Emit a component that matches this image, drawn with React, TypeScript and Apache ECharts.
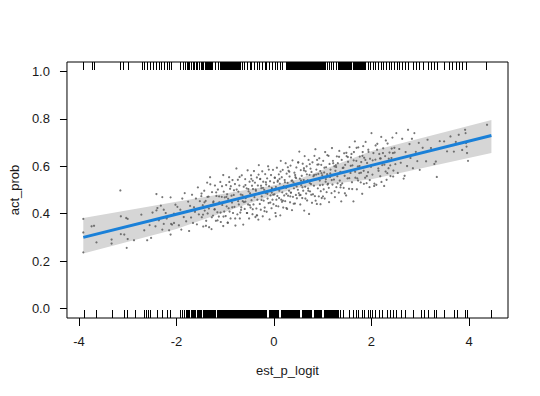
import React, { useEffect, useRef } from 'react';
import * as echarts from 'echarts';

const xTicks = [-4, -2, 0, 2, 4];
const yTicks = [0, 0.2, 0.4, 0.6, 0.8, 1.0];
const xRange = [-4.245, 4.8];
const yRange = [-0.04, 1.04];

const points: number[][] = [
  [-3.91,0.378],[-3.91,0.321],[-3.91,0.237],[-3.74,0.347],[-3.69,0.349],[-3.64,0.279],[-3.33,0.291],[-3.33,0.274],[-3.15,0.498],[-3.14,0.389],[-3.03,0.382],[-3.00,0.378],[-3.07,0.312],[-3.02,0.256],[-3.14,0.314],[-3.00,0.293],
  [-2.87,0.288],[-2.72,0.396],[-2.60,0.288],[-2.52,0.298],[-2.41,0.483],[-2.29,0.470],[-2.12,0.469],[-2.39,0.424],[-2.32,0.434],[-2.26,0.417],[-2.43,0.347],[-2.26,0.357],[-2.11,0.357],[-2.12,0.312],[-2.49,0.405],[-2.41,0.414],[-2.22,0.403],[-2.05,0.400],[-2.29,0.333],[-2.09,0.354],[-2.05,0.361],[-2.66,0.330],[-2.55,0.352],[-2.20,0.380],[-2.15,0.330],[-2.36,0.372],[-2.02,0.438],
  [-1.98,0.429],[-1.95,0.351],[-1.92,0.417],[-1.90,0.333],[-1.88,0.464],[-1.85,0.386],[-1.83,0.487],[-1.80,0.368],[-1.78,0.410],[-1.76,0.451],[-1.74,0.327],[-1.72,0.433],[-1.70,0.384],[-1.68,0.480],[-1.66,0.361],[-1.64,0.427],[-1.62,0.408],[-1.60,0.464],[-1.58,0.355],[-1.56,0.511],[-1.54,0.397],[-1.52,0.453],
  [-1.49,0.474],[-1.48,0.385],[-1.46,0.436],[-1.45,0.346],[-1.43,0.497],[-1.42,0.413],[-1.40,0.454],[-1.39,0.370],[-1.37,0.531],[-1.36,0.401],[-1.34,0.472],[-1.33,0.343],[-1.31,0.554],[-1.30,0.434],[-1.28,0.335],[-1.27,0.491],[-1.25,0.392],[-1.24,0.452],[-1.22,0.418],[-1.21,0.519],[-1.19,0.370],[-1.18,0.475],[-1.16,0.406],[-1.15,0.502],[-1.13,0.388],[-1.12,0.448],[-1.10,0.534],[-1.09,0.365],[-1.07,0.471],[-1.06,0.437],[-1.04,0.563],[-1.04,0.348],[-1.03,0.493],[-1.02,0.409],[-1.01,0.469],
  [-0.99,0.390],[-0.98,0.521],[-0.97,0.431],[-0.96,0.482],[-0.95,0.362],[-0.94,0.463],[-0.92,0.554],[-0.91,0.409],[-0.90,0.505],[-0.89,0.380],[-0.87,0.476],[-0.86,0.447],[-0.85,0.542],[-0.84,0.403],[-0.82,0.499],[-0.81,0.429],[-0.80,0.525],[-0.79,0.350],[-0.77,0.591],[-0.76,0.462],[-0.75,0.397],[-0.73,0.493],[-0.72,0.439],[-0.71,0.519],[-0.70,0.380],[-0.68,0.481],[-0.67,0.427],[-0.66,0.562],[-0.64,0.453],[-0.63,0.354],[-0.62,0.514],[-0.60,0.420],[-0.59,0.546],[-0.58,0.466],[-0.56,0.507],[-0.55,0.403],[-0.54,0.583],[-0.53,0.439],[-0.52,0.494],[-0.51,0.380],[-0.50,0.535],[-0.585,0.451],[-0.93,0.423],[-0.74,0.543],[-0.69,0.405],
  [-0.49,0.486],[-0.48,0.426],[-0.47,0.562],[-0.46,0.457],[-0.45,0.518],[-0.44,0.398],[-0.43,0.504],[-0.42,0.439],[-0.41,0.580],[-0.40,0.470],[-0.39,0.531],[-0.38,0.386],[-0.37,0.497],[-0.36,0.422],[-0.35,0.553],[-0.34,0.459],[-0.33,0.519],[-0.32,0.375],[-0.31,0.605],[-0.30,0.486],[-0.29,0.441],[-0.28,0.547],[-0.27,0.417],[-0.26,0.508],[-0.25,0.473],[-0.24,0.579],[-0.23,0.389],[-0.22,0.535],[-0.21,0.455],[-0.20,0.501],[-0.19,0.426],[-0.18,0.567],[-0.17,0.487],[-0.16,0.523],[-0.15,0.408],[-0.14,0.549],[-0.13,0.464],[-0.12,0.600],[-0.11,0.445],[-0.10,0.516],[-0.09,0.376],[-0.08,0.537],[-0.07,0.477],[-0.06,0.563],[-0.05,0.423],[-0.04,0.504],[-0.03,0.459],[-0.02,0.585],[-0.01,0.440],[0.00,0.531],[-0.355,0.393],[-0.265,0.518],[-0.045,0.489],[-0.435,0.539],
  [0.01,0.482],[0.02,0.552],[0.03,0.403],[0.04,0.513],[0.05,0.459],[0.06,0.594],[0.07,0.475],[0.08,0.540],[0.09,0.431],[0.10,0.566],[0.11,0.497],[0.12,0.527],[0.13,0.393],[0.14,0.623],[0.15,0.459],[0.16,0.554],[0.17,0.490],[0.18,0.585],[0.19,0.426],[0.20,0.516],[0.21,0.477],[0.22,0.542],[0.23,0.453],[0.24,0.613],[0.25,0.509],[0.26,0.569],[0.27,0.420],[0.28,0.530],[0.29,0.476],[0.30,0.581],[0.31,0.497],[0.32,0.557],[0.33,0.448],[0.34,0.603],[0.35,0.489],[0.36,0.539],[0.37,0.415],[0.38,0.625],[0.39,0.471],[0.40,0.532],[0.41,0.507],[0.42,0.573],[0.43,0.443],[0.44,0.554],[0.45,0.479],[0.46,0.595],[0.47,0.465],[0.48,0.526],[0.49,0.501],[0.50,0.617],[0.04,0.389],[0.255,0.484],[0.115,0.547],[0.335,0.473],[0.455,0.550],[0.185,0.455],
  [0.51,0.487],[0.52,0.662],[0.53,0.548],[0.54,0.439],[0.55,0.584],[0.56,0.520],[0.57,0.560],[0.58,0.466],[0.59,0.611],[0.60,0.497],[0.61,0.542],[0.62,0.413],[0.63,0.643],[0.64,0.514],[0.65,0.579],[0.66,0.485],[0.67,0.600],[0.68,0.456],[0.69,0.541],[0.70,0.507],[0.71,0.627],[0.72,0.399],[0.73,0.564],[0.74,0.494],[0.75,0.590],[0.76,0.525],[0.77,0.576],[0.78,0.446],[0.79,0.617],[0.80,0.482],[0.81,0.558],[0.82,0.518],[0.83,0.644],[0.84,0.474],[0.85,0.672],[0.86,0.545],[0.87,0.586],[0.88,0.441],[0.89,0.607],[0.90,0.507],[0.91,0.568],[0.92,0.473],[0.93,0.634],[0.94,0.540],[0.95,0.580],[0.96,0.495],[0.97,0.606],[0.98,0.466],[0.99,0.562],[1.00,0.522],[0.545,0.479],[0.615,0.592],[0.735,0.529],[0.865,0.565],[0.955,0.440],
  [1.01,0.623],[1.02,0.503],[1.03,0.574],[1.04,0.464],[1.05,0.660],[1.06,0.535],[1.07,0.596],[1.08,0.491],[1.09,0.567],[1.10,0.523],[1.12,0.644],[1.13,0.449],[1.14,0.610],[1.15,0.555],[1.16,0.586],[1.18,0.487],[1.19,0.677],[1.20,0.523],[1.21,0.623],[1.23,0.544],[1.24,0.600],[1.25,0.470],[1.26,0.581],[1.28,0.512],[1.29,0.642],[1.30,0.558],[1.31,0.613],[1.33,0.489],[1.34,0.665],[1.35,0.540],[1.36,0.576],[1.38,0.452],[1.39,0.627],[1.40,0.528],[1.41,0.593],[1.43,0.509],[1.44,0.655],[1.45,0.560],[1.46,0.606],[1.48,0.477],[1.49,0.643],[1.11,0.527],[1.27,0.605],[1.37,0.521],
  [1.51,0.549],[1.52,0.619],[1.54,0.505],[1.55,0.681],[1.57,0.572],[1.58,0.637],[1.60,0.533],[1.61,0.604],[1.63,0.452],[1.64,0.660],[1.66,0.705],[1.67,0.552],[1.69,0.623],[1.70,0.503],[1.72,0.599],[1.73,0.680],[1.75,0.571],[1.76,0.641],[1.78,0.532],[1.79,0.618],[1.81,0.484],[1.82,0.660],[1.84,0.581],[1.85,0.636],[1.87,0.552],[1.88,0.703],[1.90,0.529],[1.91,0.614],[1.93,0.575],[1.94,0.661],[1.96,0.512],[1.97,0.632],[1.99,0.598],[2.00,0.740],[1.59,0.652],[1.71,0.549],[1.83,0.685],
  [2.02,0.565],[2.04,0.656],[2.06,0.527],[2.08,0.628],[2.10,0.522],[2.12,0.695],[2.14,0.591],[2.16,0.652],[2.18,0.558],[2.20,0.724],[2.22,0.605],[2.24,0.676],[2.26,0.517],[2.28,0.643],[2.31,0.543],[2.33,0.696],[2.35,0.592],[2.37,0.658],[2.39,0.559],[2.41,0.635],[2.43,0.721],[2.45,0.582],[2.47,0.678],[2.49,0.609],[2.51,0.740],[2.19,0.633],[2.29,0.578],[2.44,0.656],
  [2.54,0.572],[2.57,0.673],[2.60,0.615],[2.63,0.716],[2.66,0.548],[2.68,0.560],[2.70,0.660],[2.73,0.601],[2.75,0.754],[2.78,0.694],[2.80,0.635],[2.83,0.716],[2.85,0.592],[2.88,0.740],[2.91,0.661],[2.94,0.622],[2.97,0.699],[2.99,0.585],
  [3.05,0.678],[3.12,0.621],[3.15,0.712],[3.22,0.677],[3.29,0.610],[3.32,0.620],[3.34,0.555],[3.40,0.706],[3.49,0.705],[3.55,0.663],[3.62,0.726],[3.69,0.662],[3.73,0.703],[3.79,0.733],[3.86,0.669],[3.92,0.754],[3.93,0.740],[3.94,0.698],[3.95,0.683],[3.96,0.656],[3.98,0.623],[4.37,0.775],
  [-1.485,0.485],[-1.455,0.396],[-1.425,0.448],[-1.395,0.349],[-1.365,0.471],[-1.335,0.422],[-1.305,0.524],[-1.275,0.385],[-1.245,0.447],[-1.215,0.419],[-1.185,0.490],[-1.155,0.372],[-1.125,0.473],[-1.095,0.405],[-1.065,0.516],[-1.035,0.388],[-1.005,0.449],[-0.975,0.471],[-0.945,0.362],[-0.915,0.534],
  [-0.885,0.516],[-0.855,0.427],[-0.825,0.479],[-0.795,0.380],[-0.765,0.502],[-0.735,0.453],[-0.705,0.555],[-0.675,0.416],[-0.645,0.478],[-0.615,0.449],[-0.585,0.521],[-0.555,0.403],[-0.525,0.504],[-0.495,0.436],[-0.465,0.547],[-0.435,0.419],[-0.405,0.480],[-0.375,0.502],[-0.345,0.393],[-0.315,0.565],
  [-0.285,0.546],[-0.255,0.458],[-0.225,0.509],[-0.195,0.411],[-0.165,0.533],[-0.135,0.484],[-0.105,0.586],[-0.075,0.447],[-0.045,0.509],[-0.015,0.480],[0.015,0.552],[0.045,0.433],[0.075,0.535],[0.105,0.466],[0.135,0.578],[0.165,0.450],[0.195,0.511],[0.225,0.533],[0.255,0.424],[0.285,0.596],
  [0.315,0.577],[0.345,0.489],[0.375,0.540],[0.405,0.442],[0.435,0.563],[0.465,0.515],[0.495,0.616],[0.525,0.478],[0.555,0.540],[0.585,0.511],[0.615,0.583],[0.645,0.464],[0.675,0.566],[0.705,0.497],[0.735,0.609],[0.765,0.480],[0.795,0.542],[0.825,0.563],[0.855,0.455],[0.885,0.627],
  [0.915,0.608],[0.945,0.520],[0.975,0.571],[1.005,0.473],[1.035,0.594],[1.065,0.546],[1.095,0.647],[1.125,0.509],[1.155,0.570],[1.185,0.542],[1.215,0.613],[1.245,0.495],[1.275,0.597],[1.305,0.528],[1.335,0.640],[1.365,0.511],[1.395,0.573],[1.425,0.594],[1.455,0.486],[1.485,0.657],
  [1.515,0.639],[1.545,0.550],[1.575,0.602],[1.605,0.504],[1.635,0.625],[1.665,0.577],[1.695,0.678],[1.725,0.540],[1.755,0.601],[1.785,0.573],[1.815,0.644],[1.845,0.526],[1.875,0.627],[1.905,0.559],[1.935,0.670],[1.965,0.542],[1.995,0.604],[2.025,0.625],[2.055,0.517],[2.085,0.688],
  [2.115,0.670],[2.145,0.581],[2.175,0.633],[2.205,0.534],[2.235,0.656],[2.265,0.607],[2.295,0.709],[2.325,0.571],[2.355,0.632],[2.385,0.604],[2.415,0.675],[2.445,0.557],[2.475,0.658]
];

const fitX = [-3.91, -2, 0, 2, 4.46];
const fitY = [0.300, 0.398, 0.501, 0.604, 0.730];

const bandX = [-3.91, -2, 0, 0.5, 2, 4.46];
const bandUpper = [0.382, 0.45, 0.52, 0.545, 0.665, 0.795];
const bandLower = [0.232, 0.335, 0.48, 0.51, 0.545, 0.656];

const rugTop = [
  -3.91,-3.74,-3.69,-3.15,-3.10,-3.00,-2.71,-2.66,-2.60,-2.55,-2.49,-2.41,-2.36,-2.31,-2.26,-2.20,-2.16,-2.11,-1.92,-1.87,-1.82,
  -1.78,-1.75,-1.71,-1.67,-1.64,-1.60,-1.57,-1.53,-1.49,-1.46,
  -1.42,-1.40,-1.38,-1.36,-1.34,-1.32,-1.30,-1.28,
  -1.21,-1.14,
  -1.10,-1.08,-1.06,-1.04,-1.02,-1.00,-0.98,-0.96,-0.94,-0.92,-0.90,-0.88,-0.86,-0.84,-0.82,-0.80,-0.78,-0.76,-0.74,-0.72,-0.70,
  -0.65,-0.61,-0.56,-0.50,-0.47,-0.41,-0.35,-0.31,-0.25,-0.19,-0.16,-0.10,-0.04,0.02,0.06,0.12,0.16,
  0.24,0.26,0.28,0.30,0.32,0.34,0.36,0.38,0.40,0.42,0.44,0.46,0.48,0.50,0.52,0.54,0.56,0.58,0.60,0.62,0.64,0.66,0.68,0.70,0.72,0.74,0.76,0.78,0.80,0.82,0.84,0.86,0.88,0.90,0.92,0.94,0.96,0.98,1.00,1.02,1.04,
  1.08,1.13,1.18,1.22,1.27,1.31,
  1.34,1.36,1.38,1.40,1.42,1.44,1.46,1.48,1.50,1.52,1.54,1.56,1.58,
  1.63,
  1.66,1.68,1.70,1.72,1.74,1.76,1.78,1.80,1.82,1.84,1.86,
  1.92,1.97,2.03,2.08,2.13,2.19,2.24,2.30,2.35,2.41,2.46,2.52,2.57,2.63,2.68,
  2.75,2.85,2.91,2.98,3.05,3.15,3.22,3.29,3.35,3.48,3.59,3.66,3.73,3.79,3.86,3.93,4.35
];

const rugBottom = [
  -3.90,-3.64,-3.32,-3.07,-3.02,-2.86,-2.66,-2.62,-2.58,-2.54,-2.40,-2.29,-2.19,-2.14,-1.93,-1.88,-1.84,
  -1.80,-1.77,-1.74,-1.70,-1.68,-1.65,-1.62,-1.58,-1.56,-1.53,-1.50,-1.46,-1.44,-1.41,-1.38,-1.35,-1.32,-1.29,-1.26,-1.23,-1.20,-1.16,-1.14,-1.11,-1.08,-1.05,-1.02,-0.99,
  -0.96,-0.94,-0.92,-0.90,-0.88,-0.86,-0.84,-0.82,-0.80,-0.78,-0.76,-0.74,-0.72,-0.70,-0.68,-0.66,-0.64,-0.62,-0.60,-0.58,-0.56,-0.54,-0.52,-0.50,-0.48,-0.46,-0.44,-0.42,-0.40,-0.38,-0.36,-0.34,-0.32,-0.30,-0.28,-0.26,-0.24,-0.22,-0.20,-0.18,-0.16,
  -0.10,-0.08,-0.06,-0.04,-0.02,0.00,0.02,0.04,0.06,0.08,
  0.14,0.16,0.18,0.20,0.22,0.24,0.26,0.28,0.30,0.32,0.34,0.36,0.38,0.40,0.42,0.44,0.46,0.48,0.50,0.52,
  0.58,0.60,0.62,0.64,0.66,0.68,0.70,0.72,0.74,0.76,
  0.82,0.84,0.86,0.88,0.90,0.92,0.94,0.96,
  1.02,1.04,1.06,1.08,1.10,1.12,1.14,1.16,1.18,1.20,1.22,1.24,1.26,1.28,1.30,1.32,
  1.36,1.41,1.53,1.62,1.68,1.73,1.80,1.85,1.92,1.97,2.02,2.08,2.15,2.22,2.31,2.37,2.44,2.51,2.61,2.69,2.85,3.02,3.08,3.15,3.29,3.33,3.49,3.69,3.76,3.91,3.96,4.45
];

const FONT = 'Liberation Sans, Arial, sans-serif';
const TEXT = '#1a1a1a';
const FS = 13;
const RUG_LEN = 8;
const RUG_JOIN = 0.032;

function rugSeries(values: number[], atTop: boolean) {
  const yEdge = atTop ? yRange[1] : yRange[0];
  return {
    type: 'custom',
    clip: false,
    silent: true,
    z: 5,
    data: values.map((v) => [v, 0]),
    renderItem: (params: any, api: any) => {
      const i = params.dataIndex;
      const v = values[i];
      const c = api.coord([v, yEdge]);
      const x0 = Math.round(c[0]);
      let w = 1;
      if (i + 1 < values.length && values[i + 1] - v <= RUG_JOIN) {
        const n = api.coord([values[i + 1], yEdge]);
        w = Math.max(1, Math.round(n[0]) - x0 + 1);
      }
      const y = atTop ? Math.round(c[1]) : Math.round(c[1]) - RUG_LEN;
      return {
        type: 'rect',
        shape: { x: x0, y, width: w, height: RUG_LEN },
        style: { fill: '#000' },
      };
    },
  };
}

export default function App() {
  const ref = useRef<HTMLDivElement>(null);
  useEffect(() => {
    if (!ref.current) return;
    const chart = echarts.init(ref.current, undefined, { renderer: 'svg' });
    const option: any = {
      animation: false,
      backgroundColor: '#fff',
      grid: { left: 62, right: 32, top: 62, bottom: 78, show: true, borderColor: '#000', borderWidth: 1, backgroundColor: 'transparent' },
      xAxis: {
        type: 'value',
        min: xRange[0],
        max: xRange[1],
        name: 'est_p_logit',
        nameLocation: 'middle',
        nameGap: 46,
        nameTextStyle: { color: TEXT, fontSize: FS, fontFamily: FONT },
        axisLine: { show: false, onZero: false },
        splitLine: { show: false },
        axisTick: { show: true, length: 8, customValues: xTicks, lineStyle: { color: '#000' } },
        axisLabel: { customValues: xTicks, margin: 17, color: TEXT, fontSize: FS, fontFamily: FONT, formatter: (v: number) => String(v) },
      },
      yAxis: {
        type: 'value',
        min: yRange[0],
        max: yRange[1],
        name: 'act_prob',
        nameLocation: 'middle',
        nameGap: 44,
        nameTextStyle: { color: TEXT, fontSize: FS, fontFamily: FONT },
        axisLine: { show: false, onZero: false },
        splitLine: { show: false },
        axisTick: { show: true, length: 7, customValues: yTicks, lineStyle: { color: '#000' } },
        axisLabel: { customValues: yTicks, margin: 17, color: TEXT, fontSize: FS, fontFamily: FONT, formatter: (v: number) => v.toFixed(1) },
      },
      series: [
        {
          type: 'custom',
          silent: true,
          z: 1,
          data: [[0, 0]],
          renderItem: (_p: any, api: any) => {
            const pts: number[][] = [];
            for (let i = 0; i < bandX.length; i++) pts.push(api.coord([bandX[i], bandUpper[i]]));
            for (let i = bandX.length - 1; i >= 0; i--) pts.push(api.coord([bandX[i], bandLower[i]]));
            return { type: 'polygon', shape: { points: pts }, style: { fill: '#d6d6d6', stroke: 'none' } };
          },
        },
        {
          type: 'scatter',
          z: 2,
          symbolSize: 2.2,
          itemStyle: { color: '#555555' },
          data: points,
          silent: true,
        },
        {
          type: 'line',
          z: 3,
          showSymbol: false,
          lineStyle: { color: '#1a80d8', width: 3 },
          data: fitX.map((x, i) => [x, fitY[i]]),
          silent: true,
        },
        rugSeries(rugTop, true),
        rugSeries(rugBottom, false),
      ],
    };
    chart.setOption(option);
    return () => chart.dispose();
  }, []);
  return <div ref={ref} style={{ position: 'fixed', left: 0, top: 0, width: 540, height: 396 }} />;
}
